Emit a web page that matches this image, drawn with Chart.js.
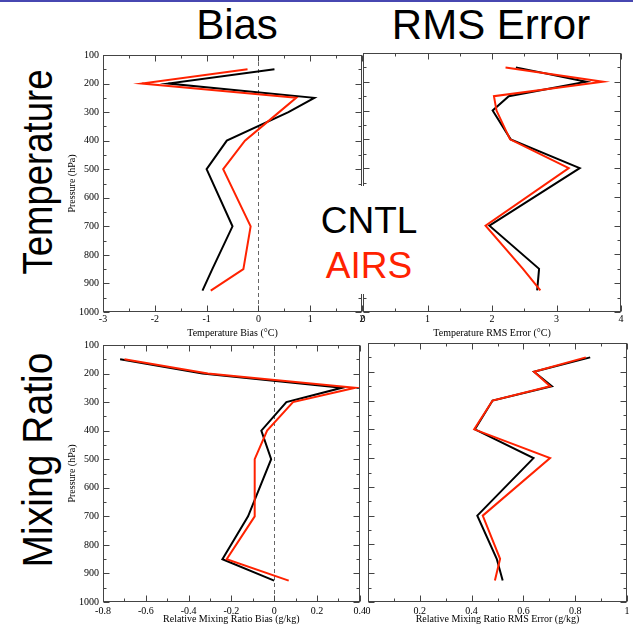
<!DOCTYPE html>
<html>
<head>
<meta charset="utf-8">
<script src="https://cdn.jsdelivr.net/npm/chart.js@4.4.1/dist/chart.umd.min.js"></script>
<style>
  html, body { margin: 0; padding: 0; background: #fff; }
  body { width: 633px; height: 629px; position: relative; overflow: hidden; font-family: 'Liberation Sans', Arial, sans-serif; }
  .topline { position: absolute; left: 0; top: 0; width: 633px; height: 2px; background: #4747b1; }
  canvas { position: absolute; }
  .head { position: absolute; top: 4px; font-size: 42px; line-height: 42px; white-space: nowrap; transform: translateX(-50%); }
  .side { position: absolute; font-size: 42px; line-height: 42px; white-space: nowrap; }
  .key { position: absolute; left: 318px; top: 186px; width: 104px; height: 108px; background: #fff; z-index: 5; }
  .key span { position: absolute; left: 51px; font-size: 37px; line-height: 37px; white-space: nowrap; transform: translateX(-50%); }
</style>
</head>
<body>
<div class="topline"></div>
<div class="head" style="left:237px">Bias</div>
<div class="head" style="left:491px">RMS Error</div>
<div class="side" style="left:38px; top:172px; transform: translate(-50%,-50%) rotate(-90deg) scaleX(0.87)">Temperature</div>
<div class="side" style="left:38px; top:460px; transform: translate(-50%,-50%) rotate(-90deg) scaleX(0.93)">Mixing Ratio</div>
<div class="key">
  <span style="top:16px; color:#000">CNTL</span>
  <span style="top:61px; color:#ff2200">AIRS</span>
</div>
<canvas id="tBias"></canvas>
<canvas id="tRms"></canvas>
<canvas id="qBias"></canvas>
<canvas id="qRms"></canvas>
<script>
// pressure levels (hPa) and profiles
const levels = [150, 200, 250, 300, 400, 500, 700, 850, 925];

const tBiasCntl = [0.31, -1.74, 1.08, 0.58, -0.61, -1.0, -0.5, -0.89, -1.08];
const tBiasAirs = [-0.21, -2.25, 0.73, 0.4, -0.26, -0.68, -0.15, -0.29, -0.92];
const tRmsCntl = [2.37, 3.46, 2.26, 2.01, 2.29, 3.36, 1.96, 2.73, 2.70];
const tRmsAirs = [2.21, 3.72, 2.03, 2.07, 2.28, 3.19, 1.90, 2.48, 2.75];
const qBiasCntl = [-0.72, -0.335, 0.316, 0.057, -0.06, -0.014, -0.122, -0.242, 0.0];
const qBiasAirs = [-0.70, -0.31, 0.378, 0.088, -0.033, -0.091, -0.091, -0.222, 0.068];
const qRmsCntl = [0.858, 0.641, 0.71, 0.481, 0.413, 0.639, 0.422, 0.497, 0.52];
const qRmsAirs = [0.841, 0.641, 0.703, 0.481, 0.41, 0.703, 0.443, 0.51, 0.49];

// tick labels
const pressureTicks = [100, 200, 300, 400, 500, 600, 700, 800, 900, 1000];
const tBiasTicks = [-3, -2, -1, 0, 1, 2];
const tRmsTicks = [0, 1, 2, 3, 4];
const qBiasTicks = [-0.8, -0.6, -0.4, -0.2, 0, 0.2, 0.4];
const qRmsTicks = [0, 0.2, 0.4, 0.6, 0.8, 1];

const RED = '#ff2200';
const tickFont = { family: "'Liberation Serif', 'Times New Roman', serif", size: 10 };

// frame, inward ticks and the dashed zero line
const frameTicks = {
    id: 'frameTicks',
    beforeDatasetsDraw(chart, args, opts) {
        if (!opts.zeroLine) return;
        const { ctx, chartArea: a, scales: { x } } = chart;
        const px = Math.round(x.getPixelForValue(0)) + 0.5;
        ctx.save();
        ctx.strokeStyle = '#666';
        ctx.lineWidth = 1;
        ctx.setLineDash([4, 3]);
        ctx.beginPath();
        ctx.moveTo(px, a.top);
        ctx.lineTo(px, a.bottom);
        ctx.stroke();
        ctx.restore();
    },
    afterDatasetsDraw(chart) {
        const { ctx, chartArea: a, scales: { x, y } } = chart;
        const marks = scale => {
            const v = scale.ticks.map(t => t.value);
            const out = v.map(val => ({ val, len: 6 }));
            for (let i = 0; i < v.length - 1; i++) out.push({ val: (v[i] + v[i + 1]) / 2, len: 3 });
            return out;
        };
        const L = Math.round(a.left) + 0.5, R = Math.round(a.right) - 0.5;
        const T = Math.round(a.top) + 0.5, B = Math.round(a.bottom) - 0.5;
        ctx.save();
        ctx.strokeStyle = '#444';
        ctx.lineWidth = 1;
        ctx.beginPath();
        marks(x).forEach(m => {
            const px = Math.round(x.getPixelForValue(m.val)) + 0.5;
            ctx.moveTo(px, B); ctx.lineTo(px, B - m.len);
            ctx.moveTo(px, T); ctx.lineTo(px, T + m.len);
        });
        marks(y).forEach(m => {
            const py = Math.round(y.getPixelForValue(m.val)) + 0.5;
            ctx.moveTo(L, py); ctx.lineTo(L + m.len, py);
            ctx.moveTo(R, py); ctx.lineTo(R - m.len, py);
        });
        ctx.stroke();
        ctx.strokeRect(L, T, R - L, B - T);
        ctx.restore();
    }
};

function makePanel(id, area, xTicks, xTitle, cntl, airs, cfg) {
    const padT = 8, padR = 8;
    const padL = cfg.showY ? 0 : 8;
    const axisW = cfg.showY ? 40 : 0;
    const canvas = document.getElementById(id);
    const w = (area.r - area.l) + axisW + padL + padR;
    const h = (area.b - area.t) + padT + cfg.axisH;
    canvas.width = w;
    canvas.height = h;
    canvas.style.left = (area.l - axisW - padL) + 'px';
    canvas.style.top = (area.t - padT) + 'px';
    canvas.style.width = w + 'px';
    canvas.style.height = h + 'px';

    const pts = vals => vals.map((v, i) => ({ x: v, y: levels[i] }));

    return new Chart(canvas.getContext('2d'), {
        type: 'scatter',
        data: {
            datasets: [
                { label: 'AIRS', data: pts(airs), showLine: true, borderColor: RED, borderWidth: 2, pointRadius: 0, order: 0 },
                { label: 'CNTL', data: pts(cntl), showLine: true, borderColor: '#000', borderWidth: 2, pointRadius: 0, order: 1 }
            ]
        },
        options: {
            responsive: false,
            animation: false,
            devicePixelRatio: 1,
            layout: { padding: { left: padL, right: padR, top: padT, bottom: 0 } },
            plugins: {
                legend: { display: false },
                tooltip: { enabled: false },
                frameTicks: { zeroLine: cfg.zeroLine }
            },
            scales: {
                x: {
                    type: 'linear',
                    min: xTicks[0],
                    max: xTicks[xTicks.length - 1],
                    ticks: {
                        stepSize: xTicks[1] - xTicks[0],
                        padding: cfg.labelPad,
                        font: tickFont,
                        color: '#000',
                        autoSkip: false,
                        maxRotation: 0,
                        callback: v => String(Math.round(v * 10) / 10)
                    },
                    grid: { display: false, drawTicks: false },
                    border: { display: false },
                    title: { display: true, text: xTitle, font: tickFont, color: '#000', padding: 0 },
                    afterFit: s => { s.height = cfg.axisH; }
                },
                y: {
                    type: 'linear',
                    reverse: true,
                    min: pressureTicks[0],
                    max: pressureTicks[pressureTicks.length - 1],
                    ticks: {
                        stepSize: pressureTicks[1] - pressureTicks[0],
                        display: cfg.showY,
                        padding: 4,
                        font: tickFont,
                        color: '#000',
                        autoSkip: false,
                        callback: v => String(v)
                    },
                    grid: { display: false, drawTicks: false },
                    border: { display: false },
                    title: { display: cfg.showY, text: 'Pressure (hPa)', font: tickFont, color: '#000', padding: { top: 3, bottom: 0 } },
                    afterFit: s => { s.width = axisW; }
                }
            }
        },
        plugins: [frameTicks]
    });
}

makePanel('tBias', { l: 103, t: 53, r: 362, b: 312 }, tBiasTicks, 'Temperature Bias (°C)',
    tBiasCntl, tBiasAirs, { showY: true, zeroLine: true, axisH: 27, labelPad: 1 });
makePanel('tRms', { l: 363, t: 53, r: 621, b: 312 }, tRmsTicks, 'Temperature RMS Error (°C)',
    tRmsCntl, tRmsAirs, { showY: false, zeroLine: false, axisH: 27, labelPad: 1 });
makePanel('qBias', { l: 103, t: 343, r: 361, b: 602 }, qBiasTicks, 'Relative Mixing Ratio Bias (g/kg)',
    qBiasCntl, qBiasAirs, { showY: true, zeroLine: true, axisH: 23, labelPad: 3 });
makePanel('qRms', { l: 368, t: 343, r: 627, b: 602 }, qRmsTicks, 'Relative Mixing Ratio RMS Error (g/kg)',
    qRmsCntl, qRmsAirs, { showY: false, zeroLine: false, axisH: 23, labelPad: 3 });
</script>
</body>
</html>
